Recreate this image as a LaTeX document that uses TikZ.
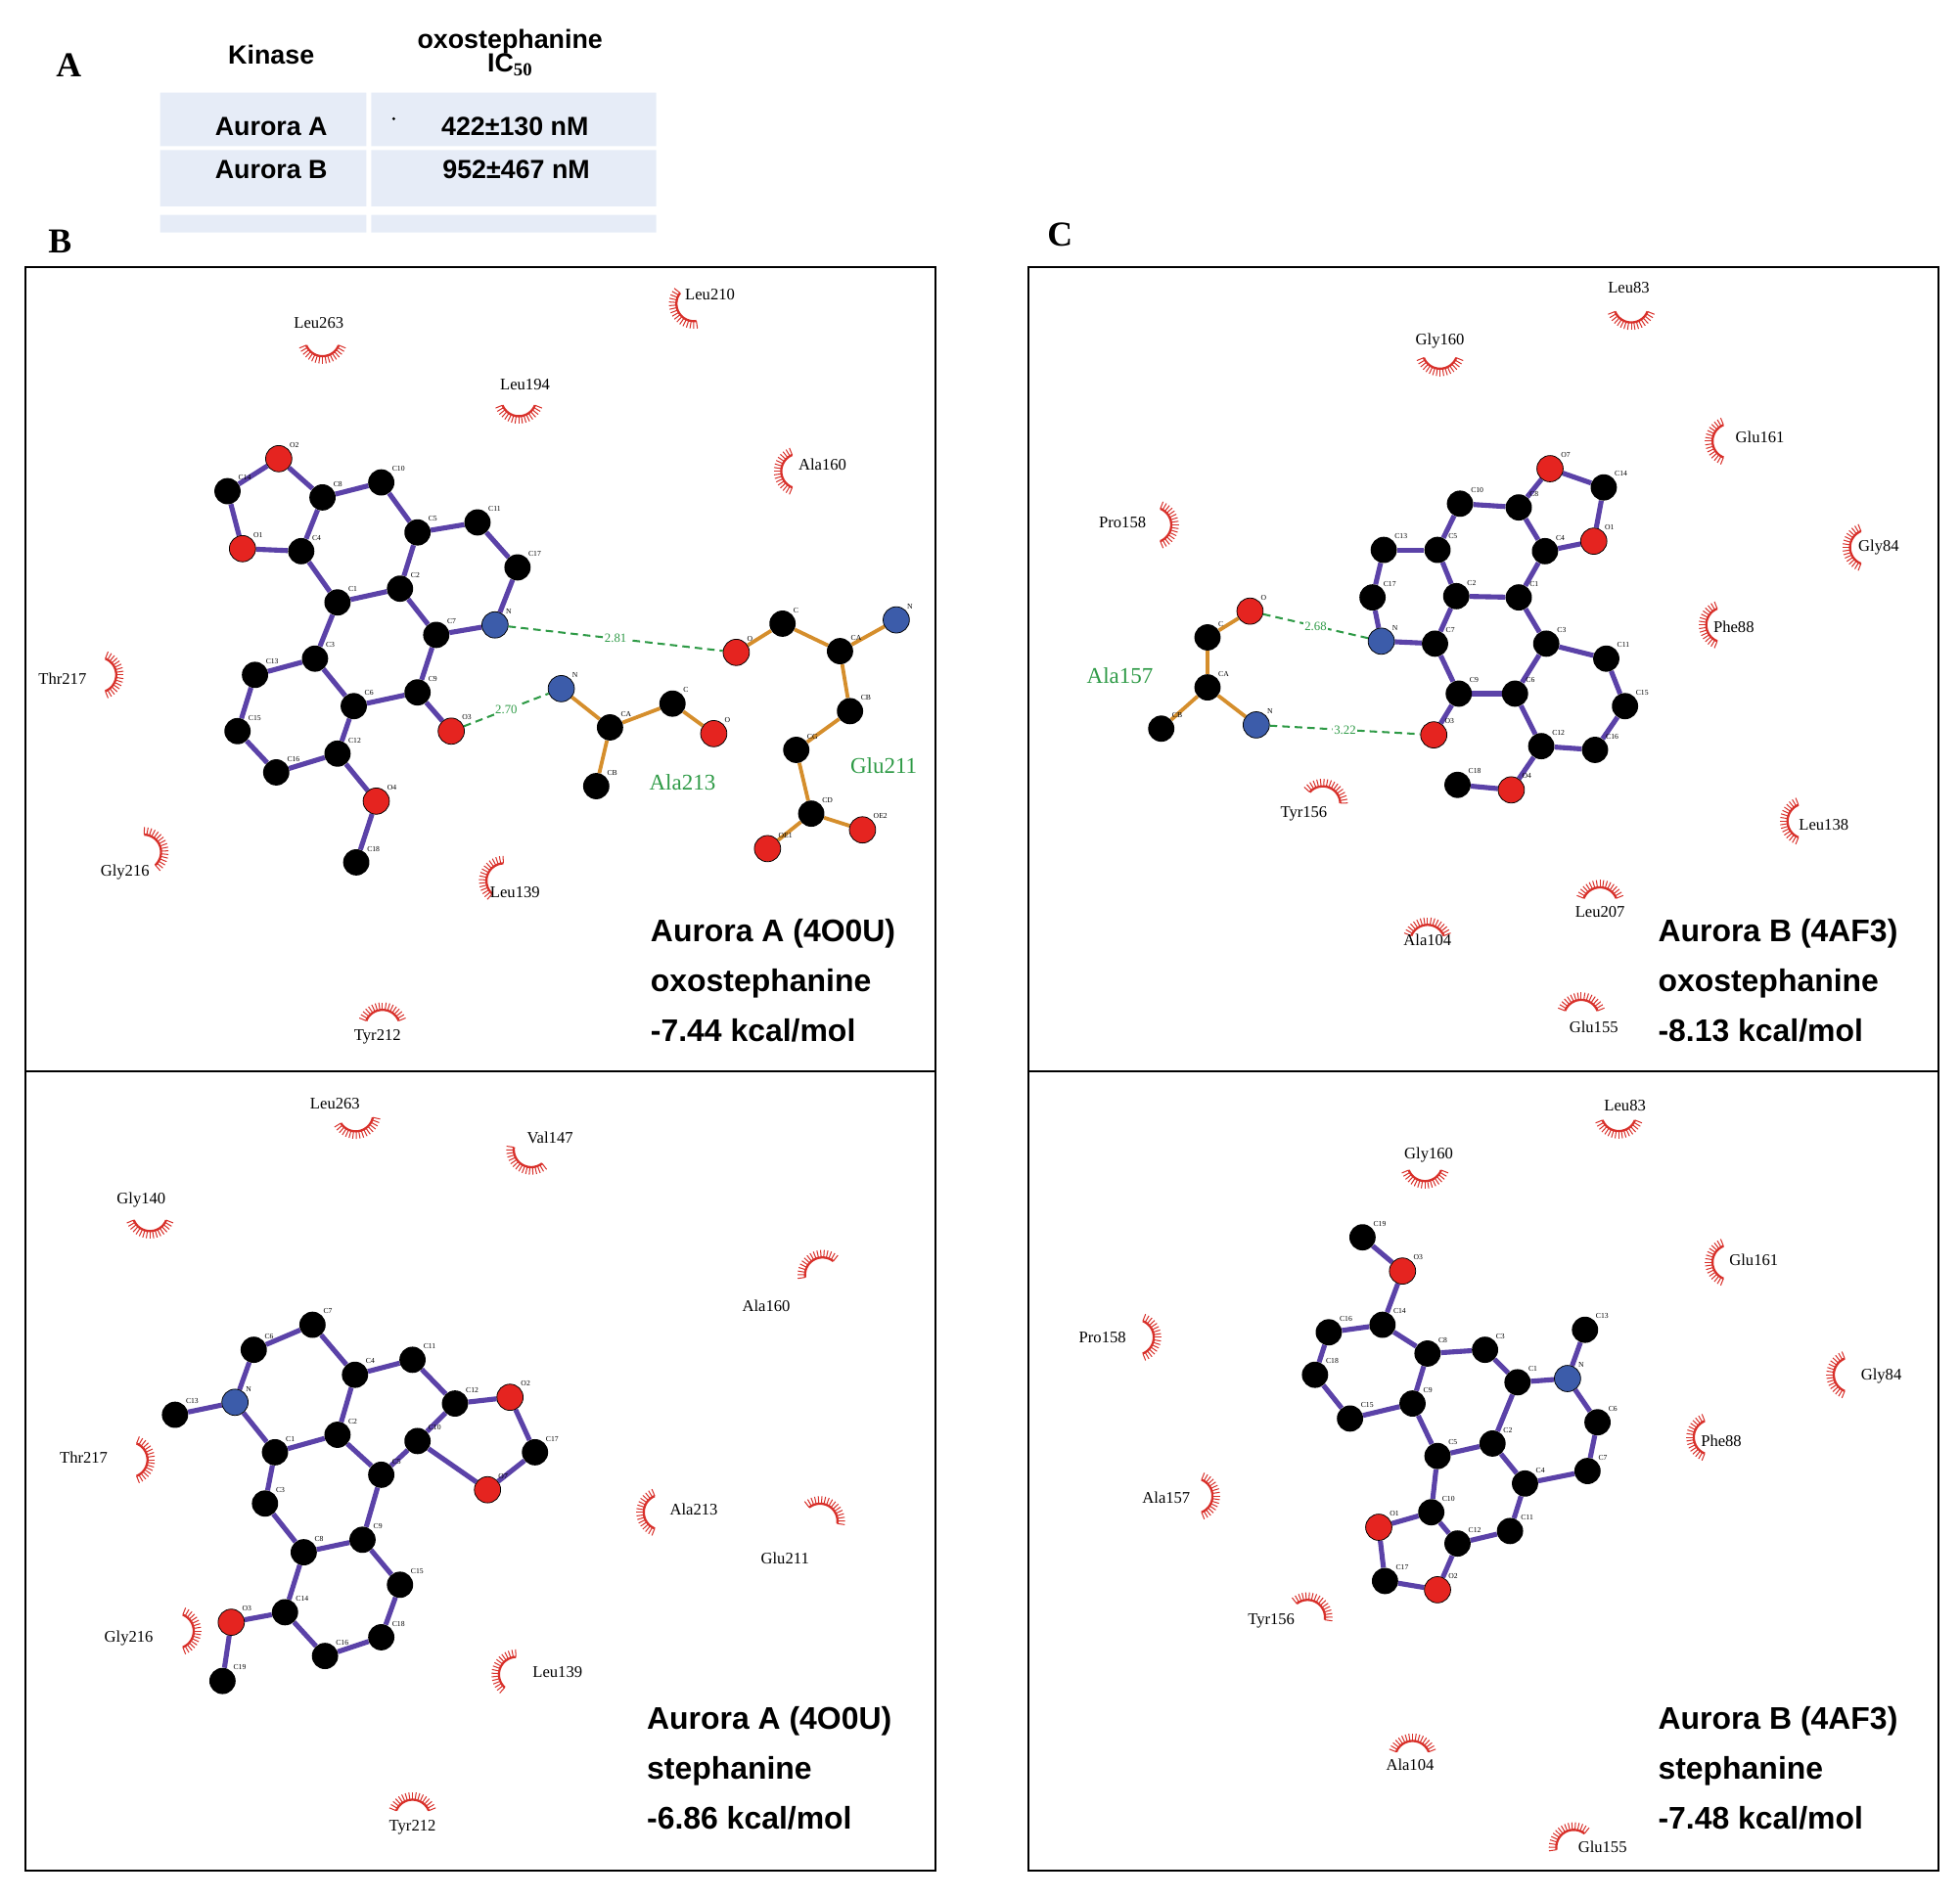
\documentclass[tikz,border=0pt]{standalone}
\usepackage{fontspec}
\setmainfont{Liberation Serif}
\setsansfont{Liberation Sans}
\usetikzlibrary{backgrounds}
\definecolor{hred}{HTML}{D8302A}
\definecolor{pur}{HTML}{5B42A8}
\definecolor{org}{HTML}{D58E2C}
\definecolor{hgr}{HTML}{2E9A46}
\definecolor{ared}{HTML}{E52420}
\definecolor{ablu}{HTML}{3C5CAA}
\definecolor{tblue}{HTML}{E6ECF7}
\tikzset{
 ab/.style={circle,fill=black,minimum size=21pt,inner sep=0pt},
 ar/.style={circle,fill=ared,draw=black,line width=0.6pt,minimum size=21pt,inner sep=0pt},
 an/.style={circle,fill=ablu,draw=black,line width=0.6pt,minimum size=21pt,inner sep=0pt},
 al/.style={font=\fontsize{6}{6}\selectfont,inner sep=1pt},
 pb/.style={draw=pur,line width=4pt},
 ob/.style={draw=org,line width=3pt},
 hb/.style={draw=hgr,line width=1.6pt,dash pattern=on 6pt off 4pt},
 hl/.style={text=hgr,font=\fontsize{10}{10}\selectfont,fill=white,inner sep=1pt},
 res/.style={font=\fontsize{13}{13}\selectfont},
 gres/.style={text=hgr,font=\fontsize{18}{18}\selectfont},
 captxt/.style={font=\sffamily\bfseries\fontsize{25}{40}\selectfont,align=left,anchor=north west},
 tab/.style={font=\sffamily\bfseries\fontsize{21}{21}\selectfont},
 pl/.style={font=\bfseries\fontsize{28}{28}\selectfont},
 box/.style={draw=black,line width=1.6pt}
}
\newcommand\at[5]{\node[#5,label={[al]45:#2}] (#1#2) at (#3,#4) {};}
\newcommand\hyd[3]{%
 \pgfmathsetmacro\hx{#1+14*cos(#3)}\pgfmathsetmacro\hy{#2-14*sin(#3)}%
 \pgfmathsetmacro\aa{#3+112}\pgfmathsetmacro\ab{#3+248}%
 \draw[hred,line width=1.8pt] plot[domain=\aa:\ab,samples=24,smooth] ({\hx+14*cos(\x)},{\hy-14*sin(\x)});
 \foreach \t in {0,...,16}{\pgfmathsetmacro\ag{\aa+\t*(\ab-\aa)/16}%
  \draw[hred,line width=0.8pt] ({\hx+14*cos(\ag)},{\hy-14*sin(\ag)}) -- ({\hx+20*cos(\ag)},{\hy-20*sin(\ag)});}}
\begin{document}
\begin{tikzpicture}[x=1pt,y=-1pt]
\useasboundingbox (0,0) rectangle (1568,1519);
\node[pl] (lA) at (55,52) {A};
\fill[tblue] (128,74) rectangle (293,117) (297,74) rectangle (525,117)
 (128,120) rectangle (293,165) (297,120) rectangle (525,165)
 (128,172) rectangle (293,186) (297,172) rectangle (525,186);
\node[tab] (tk) at (217,44) {Kinase};
\node[tab,align=center] (to) at (408,42) {oxostephanine\\[-2pt]IC$_{\mathbf{50}}$};
\node[tab] (ta) at (217,101) {Aurora A};
\node[tab] (tav) at (412,101) {422±130 nM};
\fill (315,95) circle (1.3);
\node[tab] (tb) at (217,136) {Aurora B};
\node[tab] (tbv) at (413,136) {952±467 nM};
\node[pl] (lB) at (48,193) {B};
\node[pl] (lC) at (848,188) {C};
\draw[box] (20,214) rectangle (748,1497) (20,857) -- (748,857);
\draw[box] (823,214) rectangle (1551,1497) (823,857) -- (1551,857);
\hyd{258}{285}{90}\node[res] (r1) at (255,258) {Leu263};
\hyd{543}{250}{30}\node[res] (r2) at (568,236) {Leu210};
\hyd{415}{333}{90}\node[res] (r3) at (420,308) {Leu194};
\hyd{625}{377}{0}\node[res] (r4) at (658,372) {Ala160};
\hyd{93}{540}{180}\node[res] (r5) at (50,543) {Thr217};
\hyd{128}{677}{200}\node[res] (r6) at (100,698) {Gly216};
\hyd{390}{700}{-20}\node[res] (r7) at (412,714) {Leu139};
\hyd{306}{808}{-90}\node[res] (r8) at (302,830) {Tyr212};
\at{p1}{O2}{223}{367}{ar}\at{p1}{C14}{182}{393}{ab}\at{p1}{O1}{194}{439}{ar}
\at{p1}{C4}{241}{441}{ab}\at{p1}{C8}{258}{398}{ab}\at{p1}{C10}{305}{386}{ab}
\at{p1}{C5}{334}{426}{ab}\at{p1}{C11}{382}{418}{ab}\at{p1}{C17}{414}{454}{ab}
\at{p1}{N}{396}{500}{an}\at{p1}{C7}{349}{508}{ab}\at{p1}{C2}{320}{471}{ab}
\at{p1}{C1}{270}{482}{ab}\at{p1}{C3}{252}{527}{ab}\at{p1}{C13}{204}{540}{ab}
\at{p1}{C15}{190}{585}{ab}\at{p1}{C16}{221}{618}{ab}\at{p1}{C12}{270}{603}{ab}
\at{p1}{C6}{283}{565}{ab}\at{p1}{C9}{334}{554}{ab}\at{p1}{O3}{361}{585}{ar}
\at{p1}{O4}{301}{641}{ar}\at{p1}{C18}{285}{690}{ab}
\at{a1}{N}{449}{551}{an}\at{a1}{CA}{488}{582}{ab}\at{a1}{C}{538}{563}{ab}
\at{a1}{O}{571}{587}{ar}\at{a1}{CB}{477}{629}{ab}
\at{g1}{O}{589}{522}{ar}\at{g1}{C}{626}{499}{ab}\at{g1}{N}{717}{496}{an}
\at{g1}{CA}{672}{521}{ab}\at{g1}{CB}{680}{569}{ab}\at{g1}{CG}{637}{600}{ab}
\at{g1}{CD}{649}{651}{ab}\at{g1}{OE1}{614}{679}{ar}\at{g1}{OE2}{690}{664}{ar}
\begin{scope}[on background layer]
\foreach \a/\b in {O2/C14,C14/O1,O1/C4,C4/C8,C8/O2,C8/C10,C10/C5,C5/C11,C11/C17,C17/N,N/C7,C7/C2,C2/C5,C2/C1,C1/C4,C1/C3,C3/C13,C13/C15,C15/C16,C16/C12,C12/C6,C6/C3,C6/C9,C9/C7,C9/O3,C12/O4,O4/C18}
 \draw[pb] (p1\a) -- (p1\b);
\foreach \a/\b in {N/CA,CA/C,C/O,CA/CB} \draw[ob] (a1\a) -- (a1\b);
\foreach \a/\b in {O/C,C/CA,CA/N,CA/CB,CB/CG,CG/CD,CD/OE1,CD/OE2} \draw[ob] (g1\a) -- (g1\b);
\end{scope}
\draw[hb] (p1N) -- node[hl] {2.81} (g1O);
\draw[hb] (p1O3) -- node[hl] {2.70} (a1N);
\node[gres] (gA213) at (546,626) {Ala213};
\node[gres] (gG211) at (707,613) {Glu211};
\node[captxt] (c1) at (517,732) {Aurora A (4O0U)\\oxostephanine\\-7.44 kcal/mol};
\hyd{287}{905}{100}\node[res] (s1) at (268,883) {Leu263};
\hyd{418}{932}{60}\node[res] (s2) at (440,910) {Val147};
\hyd{120}{985}{90}\node[res] (s3) at (113,960) {Gly140};
\hyd{651}{1008}{-60}\node[res] (s4) at (613,1045) {Ala160};
\hyd{118}{1168}{180}\node[res] (s5) at (67,1166) {Thr217};
\hyd{515}{1210}{0}\node[res] (s6) at (555,1208) {Ala213};
\hyd{663}{1205}{-120}\node[res] (s7) at (628,1247) {Glu211};
\hyd{155}{1305}{180}\node[res] (s8) at (103,1311) {Gly216};
\hyd{400}{1335}{-20}\node[res] (s9) at (446,1338) {Leu139};
\hyd{330}{1440}{-90}\node[res] (s10) at (330,1462) {Tyr212};
\at{p2}{C7}{250}{1060}{ab}\at{p2}{C6}{203}{1080}{ab}\at{p2}{N}{188}{1122}{an}
\at{p2}{C13}{140}{1132}{ab}\at{p2}{C4}{284}{1100}{ab}\at{p2}{C11}{330}{1088}{ab}
\at{p2}{C12}{364}{1123}{ab}\at{p2}{O2}{408}{1118}{ar}\at{p2}{C17}{428}{1162}{ab}
\at{p2}{O7}{390}{1192}{ar}\at{p2}{C10}{334}{1153}{ab}\at{p2}{C2}{270}{1148}{ab}
\at{p2}{C1}{220}{1162}{ab}\at{p2}{C3}{212}{1203}{ab}\at{p2}{C5}{305}{1180}{ab}
\at{p2}{C9}{290}{1232}{ab}\at{p2}{C8}{243}{1242}{ab}\at{p2}{C14}{228}{1290}{ab}
\at{p2}{O3}{185}{1298}{ar}\at{p2}{C19}{178}{1345}{ab}\at{p2}{C16}{260}{1325}{ab}
\at{p2}{C18}{305}{1310}{ab}\at{p2}{C15}{320}{1268}{ab}
\begin{scope}[on background layer]
\foreach \a/\b in {C13/N,N/C6,C6/C7,C7/C4,C4/C11,C11/C12,C12/O2,O2/C17,C17/O7,O7/C10,C10/C12,C10/C5,C5/C2,C2/C4,C2/C1,C1/N,C1/C3,C3/C8,C8/C9,C9/C5,C9/C15,C15/C18,C18/C16,C16/C14,C14/C8,C14/O3,O3/C19}
 \draw[pb] (p2\a) -- (p2\b);
\end{scope}
\node[captxt] (c2) at (514,1362) {Aurora A (4O0U)\\stephanine\\-6.86 kcal/mol};
\hyd{1305}{258}{90}\node[res] (t1) at (1303,230) {Leu83};
\hyd{1152}{295}{90}\node[res] (t2) at (1152,273) {Gly160};
\hyd{1370}{353}{0}\node[res] (t3) at (1408,350) {Glu161};
\hyd{937}{420}{180}\node[res] (t4) at (898,418) {Pro158};
\hyd{1480}{438}{0}\node[res] (t5) at (1503,438) {Gly84};
\hyd{1365}{500}{0}\node[res] (t6) at (1387,502) {Phe88};
\hyd{1063}{630}{-110}\node[res] (t7) at (1043,651) {Tyr156};
\hyd{1430}{657}{0}\node[res] (t8) at (1459,660) {Leu138};
\hyd{1280}{710}{-90}\node[res] (t9) at (1280,730) {Leu207};
\hyd{1142}{740}{-90}\node[res] (t10) at (1142,752) {Ala104};
\hyd{1265}{800}{-90}\node[res] (t11) at (1275,822) {Glu155};
\at{p3}{O7}{1240}{375}{ar}\at{p3}{C14}{1283}{390}{ab}\at{p3}{O1}{1275}{433}{ar}
\at{p3}{C4}{1236}{441}{ab}\at{p3}{C8}{1215}{406}{ab}\at{p3}{C10}{1168}{403}{ab}
\at{p3}{C5}{1150}{440}{ab}\at{p3}{C13}{1107}{440}{ab}\at{p3}{C17}{1098}{478}{ab}
\at{p3}{N}{1105}{513}{an}\at{p3}{C7}{1148}{515}{ab}\at{p3}{C2}{1165}{477}{ab}
\at{p3}{C1}{1215}{478}{ab}\at{p3}{C3}{1237}{515}{ab}\at{p3}{C11}{1285}{527}{ab}
\at{p3}{C15}{1300}{565}{ab}\at{p3}{C16}{1276}{600}{ab}\at{p3}{C12}{1233}{597}{ab}
\at{p3}{C6}{1212}{555}{ab}\at{p3}{C9}{1167}{555}{ab}\at{p3}{O3}{1147}{588}{ar}
\at{p3}{O4}{1209}{632}{ar}\at{p3}{C18}{1166}{628}{ab}
\at{a3}{O}{1000}{489}{ar}\at{a3}{C}{966}{510}{ab}\at{a3}{CA}{966}{550}{ab}
\at{a3}{N}{1005}{580}{an}\at{a3}{CB}{929}{583}{ab}
\begin{scope}[on background layer]
\foreach \a/\b in {O7/C14,C14/O1,O1/C4,C4/C8,C8/O7,C8/C10,C10/C5,C5/C13,C13/C17,C17/N,N/C7,C7/C2,C2/C5,C2/C1,C1/C4,C1/C3,C3/C11,C11/C15,C15/C16,C16/C12,C12/C6,C6/C3,C6/C9,C9/C7,C9/O3,C12/O4,O4/C18}
 \draw[pb] (p3\a) -- (p3\b);
\foreach \a/\b in {O/C,C/CA,CA/N,CA/CB} \draw[ob] (a3\a) -- (a3\b);
\end{scope}
\draw[hb] (a3O) -- node[hl] {2.68} (p3N);
\draw[hb] (a3N) -- node[hl] {3.22} (p3O3);
\node[gres] (gA157) at (896,541) {Ala157};
\node[captxt] (c3) at (1323,732) {Aurora B (4AF3)\\oxostephanine\\-8.13 kcal/mol};
\hyd{1295}{905}{90}\node[res] (u1) at (1300,885) {Leu83};
\hyd{1140}{945}{90}\node[res] (u2) at (1143,924) {Gly160};
\hyd{1370}{1010}{0}\node[res] (u3) at (1403,1008) {Glu161};
\hyd{923}{1070}{180}\node[res] (u4) at (882,1070) {Pro158};
\hyd{1467}{1100}{0}\node[res] (u5) at (1505,1101) {Gly84};
\hyd{1355}{1150}{0}\node[res] (u6) at (1377,1153) {Phe88};
\hyd{970}{1197}{180}\node[res] (u7) at (933,1198) {Ala157};
\hyd{1053}{1282}{-120}\node[res] (u8) at (1017,1297) {Tyr156};
\hyd{1130}{1393}{-90}\node[res] (u9) at (1128,1412) {Ala104};
\hyd{1252}{1466}{-60}\node[res] (u10) at (1282,1478) {Glu155};
\at{p4}{C19}{1090}{990}{ab}\at{p4}{O3}{1122}{1017}{ar}\at{p4}{C14}{1106}{1060}{ab}
\at{p4}{C16}{1063}{1066}{ab}\at{p4}{C18}{1052}{1100}{ab}\at{p4}{C15}{1080}{1135}{ab}
\at{p4}{C9}{1130}{1123}{ab}\at{p4}{C8}{1142}{1083}{ab}\at{p4}{C3}{1188}{1080}{ab}
\at{p4}{C1}{1214}{1106}{ab}\at{p4}{N}{1254}{1103}{an}\at{p4}{C13}{1268}{1064}{ab}
\at{p4}{C6}{1278}{1138}{ab}\at{p4}{C7}{1270}{1177}{ab}\at{p4}{C4}{1220}{1187}{ab}
\at{p4}{C2}{1194}{1155}{ab}\at{p4}{C5}{1150}{1165}{ab}\at{p4}{C10}{1145}{1210}{ab}
\at{p4}{O1}{1103}{1222}{ar}\at{p4}{C17}{1108}{1265}{ab}\at{p4}{O2}{1150}{1272}{ar}
\at{p4}{C12}{1166}{1235}{ab}\at{p4}{C11}{1208}{1225}{ab}
\begin{scope}[on background layer]
\foreach \a/\b in {C19/O3,O3/C14,C14/C16,C16/C18,C18/C15,C15/C9,C14/C8,C9/C8,C9/C5,C8/C3,C3/C1,C1/N,N/C13,N/C6,C6/C7,C7/C4,C4/C2,C2/C1,C2/C5,C4/C11,C11/C12,C12/C10,C10/C5,C10/O1,O1/C17,C17/O2,O2/C12}
 \draw[pb] (p4\a) -- (p4\b);
\end{scope}
\node[captxt] (c4) at (1323,1362) {Aurora B (4AF3)\\stephanine\\-7.48 kcal/mol};
\end{tikzpicture}
\end{document}
